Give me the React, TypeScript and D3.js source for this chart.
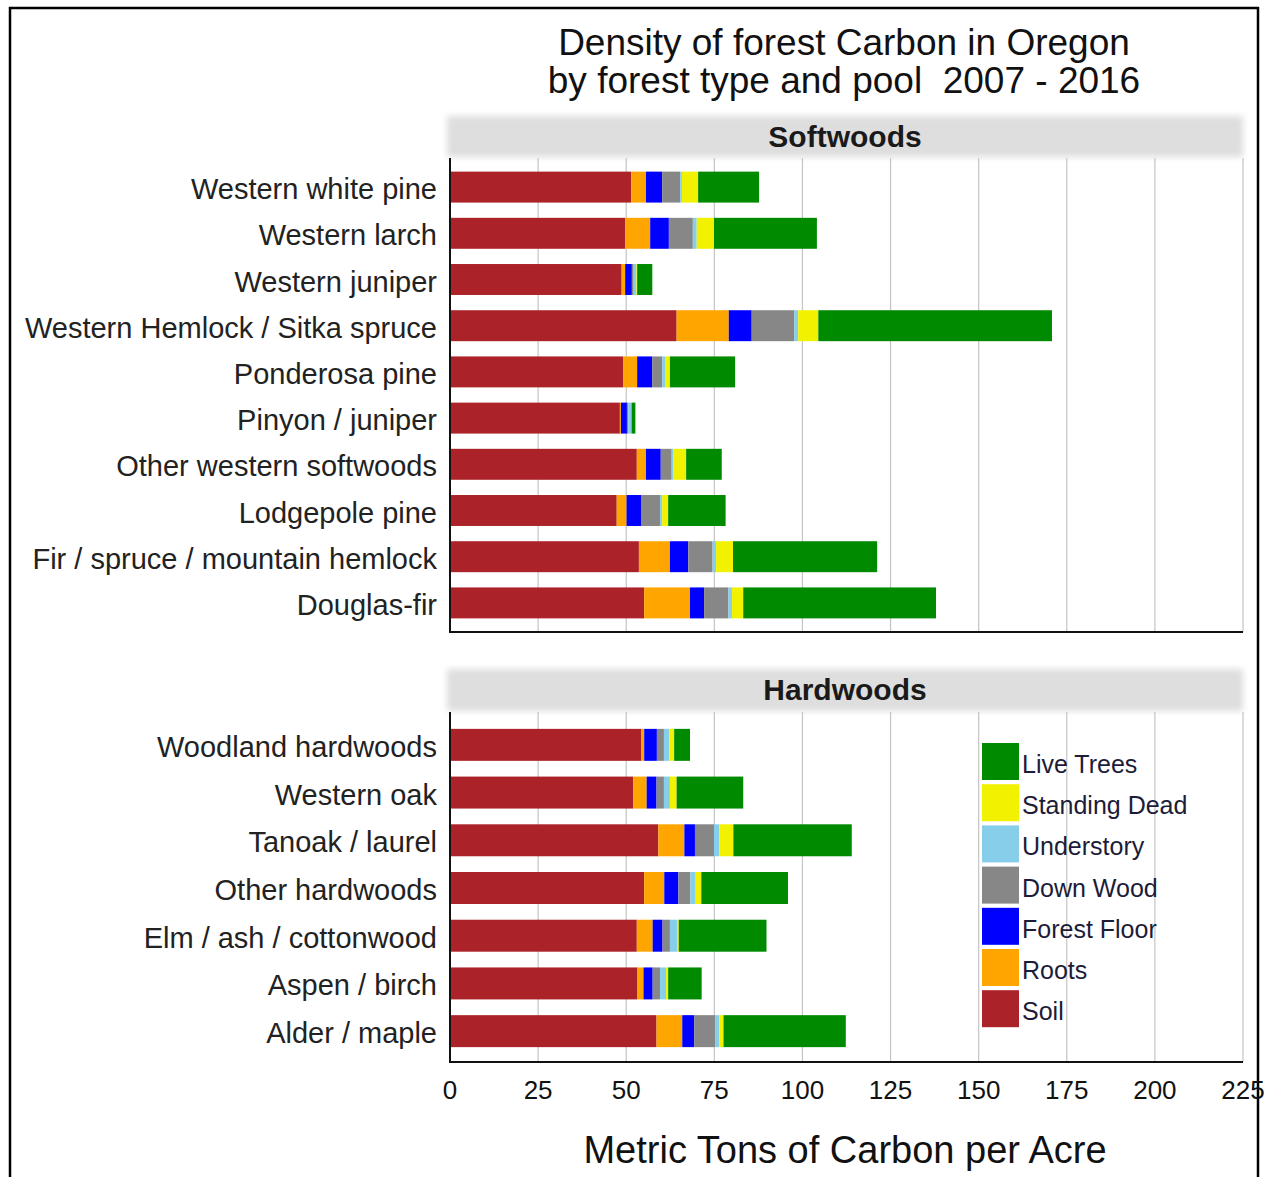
import React from 'react';
import * as d3 from 'd3';

const W = 1265;
const H = 1177;

const pools = ['Soil', 'Roots', 'Forest Floor', 'Down Wood', 'Understory', 'Standing Dead', 'Live Trees'];
const poolColors = ['#ab2328', '#ffa500', '#0000ff', '#878787', '#87ceeb', '#f2f200', '#008a00'];

const softwoodTypes = [
  'Western white pine', 'Western larch', 'Western juniper', 'Western Hemlock / Sitka spruce',
  'Ponderosa pine', 'Pinyon / juniper', 'Other western softwoods', 'Lodgepole pine',
  'Fir / spruce / mountain hemlock', 'Douglas-fir'
];
const swSoil = [51.4, 49.7, 48.7, 64.3, 49.1, 48.2, 53.0, 47.3, 53.6, 55.1];
const swRoots = [4.2, 7.1, 1.0, 14.8, 4.0, 0.3, 2.6, 2.8, 8.8, 13.0];
const swForestFloor = [4.6, 5.3, 1.9, 6.5, 4.3, 1.7, 4.2, 4.1, 5.2, 4.0];
const swDownWood = [5.1, 6.8, 0.5, 12.1, 2.8, 0.4, 3.1, 5.4, 6.9, 6.9];
const swUnderstory = [0.5, 1.1, 0.8, 1.1, 0.8, 0.8, 0.4, 0.6, 1.0, 1.0];
const swStandingDead = [4.6, 4.9, 0.2, 5.7, 1.4, 0.1, 3.7, 1.7, 4.8, 3.2];
const swLiveTrees = [17.3, 29.2, 4.3, 66.3, 18.5, 1.1, 10.1, 16.3, 40.9, 54.7];

const hardwoodTypes = [
  'Woodland hardwoods', 'Western oak', 'Tanoak / laurel', 'Other hardwoods',
  'Elm / ash / cottonwood', 'Aspen / birch', 'Alder / maple'
];
const hwSoil = [54.2, 52.0, 59.1, 55.1, 53.0, 53.2, 58.6];
const hwRoots = [0.9, 3.8, 7.4, 5.7, 4.5, 1.7, 7.3];
const hwForestFloor = [3.6, 2.8, 3.0, 4.0, 2.8, 2.6, 3.4];
const hwDownWood = [2.0, 2.1, 5.4, 3.4, 2.1, 2.1, 5.9];
const hwUnderstory = [1.5, 1.7, 1.5, 1.5, 2.1, 1.7, 1.2];
const hwStandingDead = [1.4, 1.9, 4.0, 1.6, 0.4, 0.6, 1.2];
const hwLiveTrees = [4.5, 18.9, 33.6, 24.6, 24.9, 9.5, 34.7];

const xTicks = [0, 25, 50, 75, 100, 125, 150, 175, 200, 225];

const buildRows = (types: string[], series: number[][]) =>
  types.map((t, i) => {
    const row: any = { type: t };
    pools.forEach((p, j) => { row[p] = series[j][i]; });
    return row;
  });

const softRows = buildRows(softwoodTypes, [swSoil, swRoots, swForestFloor, swDownWood, swUnderstory, swStandingDead, swLiveTrees]);
const hardRows = buildRows(hardwoodTypes, [hwSoil, hwRoots, hwForestFloor, hwDownWood, hwUnderstory, hwStandingDead, hwLiveTrees]);

const FONT = '"Liberation Sans", Arial, sans-serif';
const x = d3.scaleLinear().domain([0, 225]).range([450, 1243]);
const stack = d3.stack<any>().keys(pools);

interface PanelProps {
  title: string;
  rows: any[];
  headerTop: number;
  plotTop: number;
  plotBottom: number;
  bandTop: number;
  bandBottom: number;
}

const Panel: React.FC<PanelProps> = ({ title, rows, headerTop, plotTop, plotBottom, bandTop, bandBottom }) => {
  const y = d3.scaleBand().domain(rows.map(r => r.type)).range([bandTop, bandBottom]).paddingInner(0.33).paddingOuter(0.165);
  const series = stack(rows);
  return (
    <g>
      <rect x={447} y={headerTop + 3} width={796} height={plotTop - headerTop - 4} fill="#dedede" filter="url(#blur)" />
      <text x={845} y={(headerTop + plotTop) / 2 + 11} textAnchor="middle" fontSize={30} fontWeight="bold" fill="#1a1a1a" fontFamily={FONT}>{title}</text>
      {xTicks.slice(1).map(t => (
        <line key={t} x1={x(t)} x2={x(t)} y1={plotTop} y2={plotBottom} stroke="#c4c4c4" strokeWidth={1.2} />
      ))}
      {series.map((s, j) => (
        <g key={s.key} fill={poolColors[j]}>
          {s.map((d, i) => (
            <rect key={i} x={x(d[0])} y={y(d.data.type)!} width={Math.max(0, x(d[1]) - x(d[0]))} height={y.bandwidth()} />
          ))}
        </g>
      ))}
      {rows.map(r => (
        <text key={r.type} x={437} y={y(r.type)! + y.bandwidth() / 2 + 12} textAnchor="end" fontSize={29} fill="#222" fontFamily={FONT}>{r.type}</text>
      ))}
      <line x1={450} x2={450} y1={plotTop} y2={plotBottom} stroke="#111" strokeWidth={2} />
      <line x1={449} x2={1243} y1={plotBottom} y2={plotBottom} stroke="#111" strokeWidth={2} />
    </g>
  );
};

export default function App() {
  return (
    <div style={{ position: 'absolute', left: 0, top: 0 }}>
      <svg width={W} height={H} style={{ display: 'block', background: '#fff' }}>
        <defs>
          <filter id="blur" x="-5%" y="-30%" width="110%" height="160%">
            <feGaussianBlur stdDeviation={3} />
          </filter>
        </defs>
        <rect x={10} y={8} width={1248} height={1200} fill="#fff" stroke="#000" strokeWidth={2.5} />
        <text x={844} y={55} textAnchor="middle" fontSize={37} fill="#111" fontFamily={FONT}>Density of forest Carbon in Oregon</text>
        <text x={844} y={93} textAnchor="middle" fontSize={37} fill="#111" fontFamily={FONT} style={{ whiteSpace: 'pre' }}>{'by forest type and pool  2007 - 2016'}</text>

        <Panel title="Softwoods" rows={softRows} headerTop={113} plotTop={158} plotBottom={632} bandTop={164} bandBottom={626} />
        <Panel title="Hardwoods" rows={hardRows} headerTop={666} plotTop={712} plotBottom={1062} bandTop={721} bandBottom={1055} />

        {xTicks.map(t => (
          <text key={t} x={x(t)} y={1099} textAnchor="middle" fontSize={26} fill="#111" fontFamily={FONT}>{t}</text>
        ))}
        <text x={845} y={1163} textAnchor="middle" fontSize={38} fill="#111" fontFamily={FONT}>Metric Tons of Carbon per Acre</text>

        {pools.slice().reverse().map((p, i) => {
          const idx = pools.length - 1 - i;
          const top = 743 + i * 41.2;
          return (
            <g key={p}>
              <rect x={982} y={top} width={37} height={37} fill={poolColors[idx]} />
              <text x={1022} y={top + 30} fontSize={25} fill="#1c1c38" fontFamily={FONT}>{p}</text>
            </g>
          );
        })}
      </svg>
    </div>
  );
}
